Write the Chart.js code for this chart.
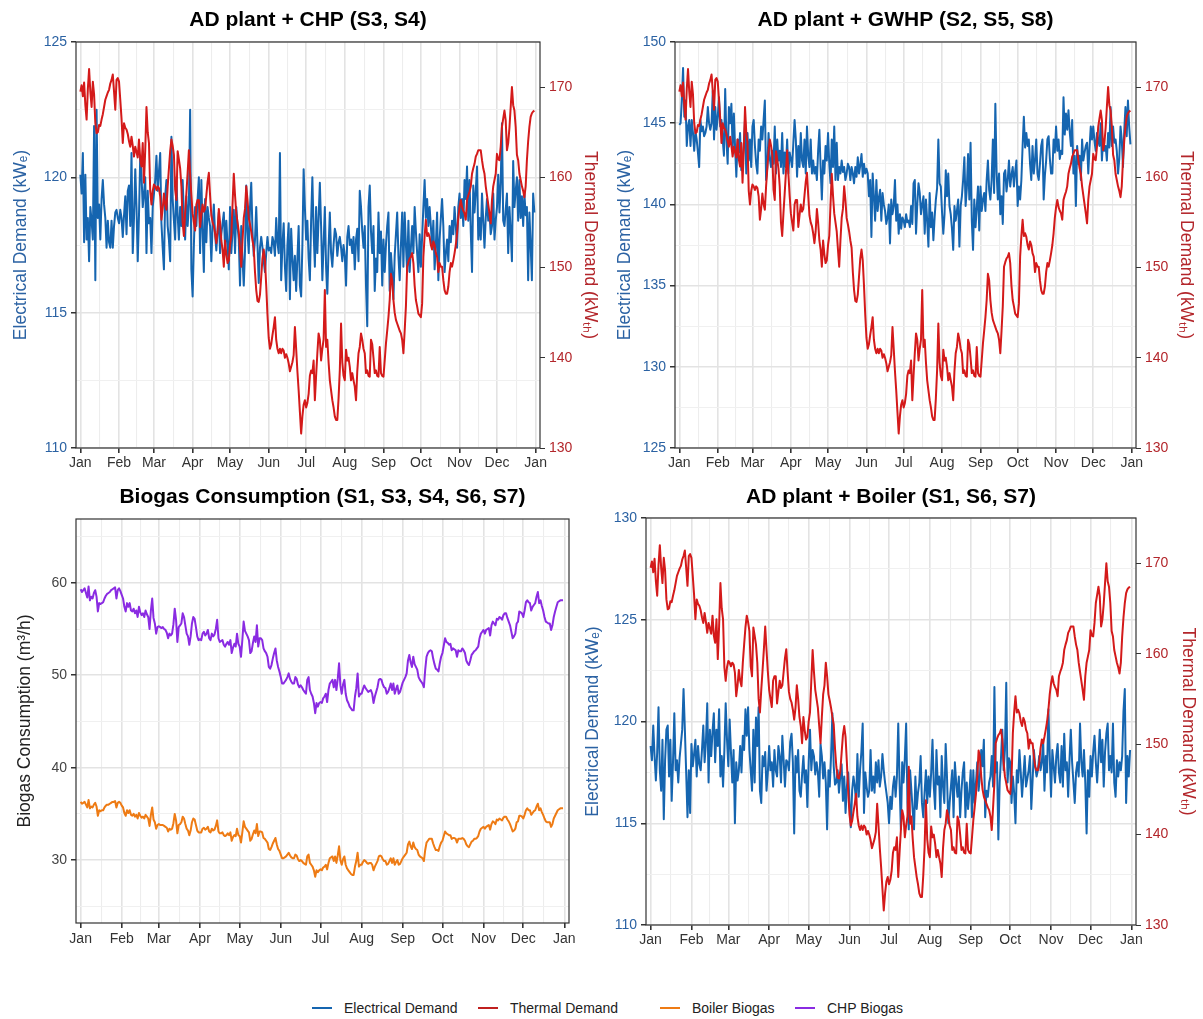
<!DOCTYPE html>
<html>
<head>
<meta charset="utf-8">
<script src="https://cdn.jsdelivr.net/npm/chart.js@4.4.1/dist/chart.umd.min.js"></script>
<style>
  body { margin: 0; background: #fff; }
  #page { position: relative; width: 1203px; height: 1019px; background: #fff; font-family: 'Liberation Sans', Arial, sans-serif; }
  .panel { position: absolute; }
  .item { position: absolute; top: 998px; height: 20px; line-height: 20px; font-size: 14px; color: #222; white-space: nowrap; }
  .swatch { display: inline-block; width: 20px; height: 2px; vertical-align: middle; margin-right: 12px; position: relative; top: -1px; }
</style>
</head>
<body>
<div id="page">
  <div class="panel" style="left:0;top:0"><canvas id="chp" width="600" height="480"></canvas></div>
  <div class="panel" style="left:600px;top:0"><canvas id="gwhp" width="603" height="480"></canvas></div>
  <div class="panel" style="left:0;top:480px"><canvas id="biogas" width="600" height="480"></canvas></div>
  <div class="panel" style="left:570px;top:480px"><canvas id="boiler" width="633" height="480"></canvas></div>

  <div class="item" style="left:312px"><span class="swatch" style="background:#1565b0"></span>Electrical Demand</div>
  <div class="item" style="left:478px"><span class="swatch" style="background:#c0201f"></span>Thermal Demand</div>
  <div class="item" style="left:660px"><span class="swatch" style="background:#ee7b14"></span>Boiler Biogas</div>
  <div class="item" style="left:795px"><span class="swatch" style="background:#8a2be2"></span>CHP Biogas</div>
</div>
<script>
// x axis: day of year, ticks at month starts, minor lines at mid-month
const monthDays = [0, 31, 59, 90, 120, 151, 181, 212, 243, 273, 304, 334, 365];
const monthLabels = ['Jan', 'Feb', 'Mar', 'Apr', 'May', 'Jun', 'Jul', 'Aug', 'Sep', 'Oct', 'Nov', 'Dec', 'Jan'];
const midMonthDays = [15.5, 45, 74.5, 105, 135.5, 166, 196.5, 227.5, 258, 288.5, 319, 349.5];

// y ticks
const elecTicksChp = [110, 112.5, 115, 117.5, 120, 122.5, 125];
const elecTicksGwhp = [125, 127.5, 130, 132.5, 135, 137.5, 140, 142.5, 145, 147.5, 150];
const elecTicksBoiler = [110, 112.5, 115, 117.5, 120, 122.5, 125, 127.5, 130];
const thermalTicks = [130, 140, 150, 160, 170];
const biogasTicks = [25, 30, 35, 40, 45, 50, 55, 60, 65];

// daily thermal demand (kWth), same in the three demand panels
const thermalDemand = [
  169.5,170.2,169.0,170.5,168.0,166.4,169.8,172.0,169.5,167.8,
  170.6,169.2,166.0,164.9,165.0,165.8,165.7,166.4,167.0,167.8,
  168.6,169.0,169.4,169.7,170.4,170.8,171.4,169.5,167.5,170.8,
  171.0,170.6,168.6,166.5,163.8,166.0,165.5,165.3,164.8,164.0,
  163.4,164.5,163.5,162.3,163.4,162.8,162.2,164.2,162.0,161.2,
  163.8,159.4,163.0,167.8,165.0,163.8,158.5,157.0,158.5,159.2,
  159.0,158.6,159.0,158.8,157.9,155.3,156.5,158.2,157.0,156.4,
  159.0,161.0,162.9,164.2,163.5,162.5,158.6,157.5,162.9,162.0,
  161.0,159.0,155.0,153.5,156.0,158.2,160.5,163.0,160.4,158.0,
  156.0,155.0,154.1,157.0,157.5,157.5,154.5,155.8,157.0,156.2,
  156.5,158.0,159.5,160.5,158.0,155.8,155.0,154.6,153.8,152.7,
  154.0,156.5,155.0,153.0,152.0,150.1,153.0,151.5,150.5,150.8,
  152.5,153.5,157.0,160.4,158.0,156.0,155.0,154.0,152.0,150.1,
  153.0,155.5,156.5,159.0,157.5,155.5,154.8,154.0,153.0,152.2,
  149.5,147.5,146.3,146.2,147.0,149.0,151.0,152.0,150.8,148.0,
  144.8,142.2,141.0,141.5,142.5,143.4,144.5,142.0,141.0,140.5,
  141.0,140.5,141.0,140.8,140.0,140.4,140.0,139.4,138.5,139.0,
  139.5,140.3,143.4,141.0,138.5,136.4,134.0,131.6,133.5,134.8,
  135.3,134.5,135.0,136.0,138.0,138.6,138.3,139.7,135.3,138.0,
  140.5,142.7,142.0,139.7,141.0,142.0,147.5,141.2,142.0,139.5,
  137.5,136.4,135.3,134.5,133.5,133.1,133.1,135.5,138.6,143.8,
  139.5,138.0,137.5,140.9,139.7,140.0,139.0,137.5,138.3,137.5,
  136.8,135.3,138.5,140.5,141.2,142.7,142.0,141.0,140.5,138.3,
  138.6,138.0,137.9,142.0,141.5,140.0,138.3,138.6,138.0,137.9,
  141.2,138.3,138.0,137.9,139.7,141.6,143.0,144.5,146.4,149.3,
  148.6,146.4,145.0,144.2,143.8,143.4,143.0,142.7,142.0,140.5,
  143.0,145.7,150.1,150.6,151.0,151.2,151.6,150.5,148.0,146.4,
  145.7,144.9,144.7,144.5,146.0,151.2,153.5,155.3,153.5,153.8,
  153.4,152.5,152.0,152.9,152.5,151.6,151.2,149.5,150.5,150.1,
  150.1,148.6,147.5,147.1,147.1,147.9,149.5,150.5,150.1,150.8,
  151.6,152.5,153.8,155.5,156.7,157.5,156.7,156.3,156.0,155.3,
  157.5,158.0,158.4,159.0,160.4,161.0,161.5,162.3,162.6,163.0,
  163.0,163.0,161.9,161.0,160.4,159.0,158.0,157.0,156.0,154.9,
  157.5,159.0,159.7,160.4,162.6,162.0,161.9,163.4,165.6,166.5,
  167.4,166.3,163.0,163.8,165.5,167.8,170.0,168.0,167.4,165.6,
  162.5,161.9,160.4,159.7,159.0,158.5,157.8,159.0,161.9,164.0,
  165.6,166.7,167.1,167.3,167.4
];

// daily electrical demand (kWe), AD plant + CHP
const elecChp = [
  120.1,119.4,120.9,117.6,120.1,117.7,118.5,116.9,118.9,118.4,
  117.7,121.9,116.2,122.5,118.5,119.0,117.7,119.2,119.9,119.0,
  118.5,117.4,118.4,117.6,117.4,118.4,117.4,118.2,118.7,118.8,
  118.5,118.3,118.8,118.5,117.8,118.6,119.3,117.9,119.5,119.7,
  118.2,120.9,117.2,118.5,120.3,118.9,116.9,118.6,120.8,120.1,
  118.9,119.4,120.0,117.2,119.5,118.3,118.5,117.2,118.9,119.4,
  119.9,120.8,119.5,120.2,120.9,118.3,117.4,116.6,119.3,119.9,
  118.2,117.7,116.9,121.5,119.2,118.4,117.7,120.0,118.6,117.7,
  118.9,118.2,119.9,118.6,117.7,119.3,118.2,119.0,122.5,116.6,
  115.6,117.5,118.9,118.2,119.2,120.0,117.2,119.9,118.0,116.5,
  119.2,117.6,118.9,118.5,118.2,116.9,118.2,119.0,117.9,117.3,
  118.0,118.7,117.2,117.9,118.3,118.7,117.4,118.4,117.5,116.6,
  118.9,117.2,118.0,118.8,117.2,118.9,118.2,117.7,116.0,118.2,
  117.0,116.0,117.3,119.7,118.0,117.2,118.9,119.8,118.0,117.1,
  117.7,118.9,117.5,116.1,117.4,117.8,117.4,116.9,116.5,117.2,
  117.8,117.3,117.4,117.2,117.8,117.6,117.1,118.5,117.6,117.2,
  120.9,116.2,117.5,118.3,116.7,115.8,117.5,118.3,115.5,118.1,
  117.0,116.2,117.1,115.8,117.0,118.2,116.0,115.6,117.5,120.3,
  118.9,117.7,118.4,117.0,116.2,118.4,120.0,118.0,116.7,118.9,
  117.2,118.5,119.8,118.2,116.2,117.5,118.9,116.7,115.7,117.4,
  118.7,117.2,116.7,117.5,118.1,117.9,117.1,117.6,117.8,117.4,
  116.9,117.5,117.1,116.0,117.8,118.2,117.5,117.7,117.2,117.8,
  116.6,117.7,118.1,116.9,119.5,118.9,118.0,117.4,118.2,116.0,
  114.5,118.9,119.7,118.0,117.2,118.2,115.8,117.0,116.5,118.7,
  117.2,118.0,116.0,117.7,116.5,117.5,118.2,118.7,115.8,117.2,
  116.5,115.5,117.1,117.9,118.7,117.1,116.2,117.5,118.7,116.7,
  118.7,117.5,116.5,118.4,116.5,117.4,118.2,117.2,118.9,118.0,
  117.2,116.5,117.9,116.7,117.8,118.9,119.9,118.5,119.2,118.2,
  118.9,118.2,117.4,118.4,116.6,117.5,118.7,116.2,117.7,118.5,
  119.2,118.2,116.5,117.2,117.7,116.9,118.2,117.6,118.4,117.9,
  118.9,118.2,117.4,118.9,119.4,118.5,119.2,118.2,119.9,119.2,
  120.4,118.4,119.9,118.0,116.5,119.7,118.7,119.5,120.4,117.7,
  118.5,117.7,119.4,118.4,117.4,118.5,119.2,118.4,118.7,117.9,
  118.2,119.4,117.7,118.4,118.9,120.1,118.7,119.8,122.0,118.4,
  118.2,118.8,119.4,117.2,118.9,118.0,116.9,120.6,118.9,119.5,
  120.0,118.4,119.9,118.5,119.3,118.2,119.4,118.6,118.9,116.2,
  118.7,117.5,116.2,119.4,118.7
];

// daily electrical demand (kWe), AD plant + GWHP
const elecGwhp = [
  144.9,145.0,146.4,148.4,145.4,146.4,143.6,144.8,145.2,143.6,
  145.2,144.4,143.3,144.5,144.0,143.2,142.3,145.2,144.5,144.8,
  144.2,144.4,144.8,146.0,145.0,144.6,145.0,147.0,144.0,146.0,
  144.6,145.4,146.6,144.8,145.2,144.0,143.0,147.1,144.0,142.5,
  146.0,145.0,146.2,143.3,145.6,143.5,141.7,144.0,143.2,144.4,
  142.1,142.7,143.6,145.2,141.9,144.4,142.7,144.0,142.3,144.8,
  145.2,143.6,142.5,141.9,144.0,143.3,144.8,144.0,145.2,146.4,
  141.5,142.3,144.4,142.8,142.3,143.3,142.5,144.8,141.9,144.0,
  142.7,143.3,142.3,144.4,141.9,143.2,142.3,144.0,141.9,143.2,
  142.8,142.3,143.8,145.2,144.0,141.7,143.6,142.3,144.4,142.7,
  142.3,144.0,141.9,144.8,143.0,142.3,144.0,141.9,142.7,141.9,
  142.3,141.5,143.3,144.6,142.3,140.3,142.7,141.9,143.6,142.7,
  144.4,142.5,141.3,144.0,142.3,144.8,141.5,143.8,141.5,142.3,
  141.9,142.7,142.0,142.3,141.5,141.9,142.5,142.3,141.5,142.3,
  141.9,141.3,142.3,141.7,142.9,141.9,142.4,143.1,141.7,142.5,
  141.9,142.2,141.9,140.5,141.5,138.0,141.9,140.5,139.0,141.5,
  139.6,140.4,140.9,139.0,140.7,140.0,139.6,138.8,139.2,140.0,
  137.6,140.3,139.4,139.9,141.5,139.0,140.0,138.2,139.4,138.5,
  139.2,139.0,138.6,139.4,138.9,139.0,138.6,139.9,138.8,141.3,
  141.5,138.2,140.0,141.3,140.7,139.4,140.0,140.5,138.2,140.3,
  139.0,137.4,140.7,138.6,139.5,137.8,139.2,140.3,141.0,144.0,
  141.3,141.1,139.5,138.2,139.4,142.1,140.5,141.9,139.9,139.4,
  138.5,137.2,139.9,139.0,139.6,140.3,137.4,139.9,140.5,141.5,
  142.9,139.9,141.0,143.1,140.3,143.8,139.0,137.2,140.3,138.6,
  139.8,141.1,138.4,141.1,139.6,140.3,140.7,139.6,141.5,142.7,
  140.9,140.3,141.5,144.0,140.7,146.2,142.0,140.3,141.9,139.4,
  140.5,138.8,141.9,142.1,140.8,141.5,142.7,141.1,141.8,142.3,
  141.1,142.0,142.7,139.9,141.1,140.3,141.5,143.6,145.4,143.5,
  144.4,143.6,144.0,142.5,141.5,143.6,141.9,142.7,144.0,141.9,
  141.5,142.5,143.6,144.0,140.3,141.8,142.7,144.0,144.2,142.8,
  141.9,141.9,144.0,143.2,144.8,143.3,144.0,142.8,143.3,143.1,
  146.6,144.3,145.6,144.6,145.8,144.5,143.6,145.2,141.9,143.0,
  139.9,143.6,142.5,143.0,141.5,144.0,142.7,143.2,143.6,143.8,
  141.9,143.5,144.8,144.0,144.8,143.9,143.3,144.4,144.0,143.6,
  145.0,142.7,144.0,143.3,143.6,142.7,144.4,143.5,146.0,143.6,
  144.8,143.8,144.0,143.3,141.9,142.8,144.8,144.0,142.3,144.5,
  146.0,144.2,146.4,144.8,143.7
];

// daily electrical demand (kWe), AD plant + Boiler
const elecBoiler = [
  118.8,118.1,119.8,118.3,117.1,118.5,120.7,117.6,116.6,119.1,
  115.2,118.1,119.6,119.8,117.3,119.1,116.1,118.0,120.4,117.6,
  118.1,117.0,118.2,118.9,119.6,121.6,119.6,117.5,115.3,117.6,
  115.5,118.9,117.8,118.4,119.1,117.3,118.8,117.9,117.6,118.6,
  119.8,118.0,119.0,120.9,117.0,119.6,118.3,119.5,120.4,118.0,
  119.6,118.8,120.6,117.3,118.3,116.8,118.6,120.9,119.1,117.8,
  120.1,118.5,117.0,118.6,115.0,118.0,117.1,117.6,118.8,117.5,
  119.3,118.6,120.6,119.3,120.7,118.6,117.6,116.6,119.6,117.0,
  120.2,118.8,120.7,116.6,116.0,118.3,117.8,118.5,116.6,117.5,
  118.8,117.6,118.0,116.8,118.6,117.6,117.3,118.8,118.3,117.0,
  119.3,118.1,116.8,118.1,118.0,117.6,119.0,119.4,118.0,114.5,
  118.3,117.5,118.6,116.6,116.3,117.4,118.3,117.0,117.6,115.8,
  118.0,119.6,117.6,118.6,118.3,117.4,118.0,117.5,116.3,118.9,
  118.3,117.2,118.0,117.0,114.7,117.6,116.8,118.3,120.4,117.8,
  116.9,117.0,117.6,116.5,117.3,117.9,116.1,117.3,115.5,116.8,
  117.5,116.0,114.8,116.6,117.3,116.8,116.0,118.4,116.3,117.6,
  118.5,119.9,115.5,117.5,116.8,116.3,116.6,118.6,116.6,117.3,
  116.5,118.0,117.0,118.1,116.8,117.3,118.4,117.6,117.0,116.5,
  116.0,115.0,116.3,115.7,116.8,117.3,116.3,117.3,119.9,117.0,
  114.7,118.0,117.0,118.2,119.9,116.0,114.7,117.6,116.6,115.6,
  114.7,117.3,115.7,116.5,117.0,118.3,116.0,115.3,116.5,117.6,
  116.0,117.3,116.3,117.5,119.1,116.8,115.7,118.6,116.9,117.3,
  115.3,118.3,116.8,116.0,118.9,117.3,115.0,116.0,116.8,117.6,
  115.3,118.0,117.0,116.3,117.3,115.3,116.6,117.5,118.0,115.3,
  117.0,115.7,116.5,117.6,115.3,117.6,116.0,117.0,118.0,116.6,
  117.3,118.6,117.8,119.1,115.3,116.6,116.3,117.0,117.3,118.3,
  116.8,121.7,117.5,118.0,114.2,117.0,118.2,119.6,117.6,118.6,
  121.9,117.0,118.2,118.0,116.0,117.3,116.5,115.0,117.6,117.0,
  118.6,117.5,116.3,117.3,118.3,116.8,117.2,117.6,118.3,115.7,
  117.1,118.6,117.8,117.3,117.6,118.3,117.6,118.0,119.1,116.6,
  118.3,117.5,120.6,118.3,116.3,118.6,117.8,117.0,118.3,118.9,
  117.5,117.0,118.8,116.8,119.4,117.6,118.0,116.3,118.1,119.6,
  118.0,117.0,116.0,117.5,118.0,117.3,119.9,118.0,117.3,118.6,
  117.0,114.5,117.6,116.3,118.3,117.3,118.5,119.3,118.0,117.0,
  118.2,119.6,118.0,119.1,116.8,118.5,119.4,119.9,117.6,118.3,
  117.5,119.9,117.0,116.3,118.1,117.3,118.0,117.6,118.3,120.5,
  121.6,116.0,118.3,117.3,118.6
];

// daily biogas consumption (m3/h)
const chpBiogas = [
  59.3,59.0,59.2,59.4,58.9,58.4,59.6,58.1,58.5,58.3,
  58.9,59.2,58.5,56.9,57.8,57.7,57.8,57.9,58.3,58.6,
  58.8,58.9,59.0,59.2,59.3,59.4,59.5,58.3,59.2,59.4,
  59.1,58.7,58.3,57.4,56.9,57.8,57.4,57.8,57.0,56.9,
  57.2,56.7,57.0,56.3,57.4,56.8,56.5,56.7,56.3,57.0,
  56.6,56.3,55.0,57.0,58.3,56.2,55.6,54.5,55.2,55.3,
  55.2,55.1,55.2,55.0,54.9,54.6,54.0,54.5,54.3,54.5,
  55.5,57.2,56.0,53.6,55.2,55.4,55.6,56.7,56.3,55.4,
  54.5,54.2,53.3,54.2,55.6,56.3,56.1,55.2,54.2,53.8,
  53.9,53.8,54.5,54.7,54.3,54.5,54.9,54.0,53.8,54.5,
  54.2,54.4,55.0,56.0,54.0,53.6,53.7,53.8,53.3,53.1,
  53.4,53.6,53.3,53.8,52.4,53.0,53.4,53.1,54.5,53.4,
  53.1,52.0,53.8,55.8,54.8,54.5,54.2,53.8,52.4,52.6,
  53.5,54.2,53.6,55.4,53.1,54.0,54.0,53.8,52.9,52.6,
  52.4,52.0,50.9,50.7,51.1,51.8,52.4,52.9,51.6,50.9,
  50.4,49.8,49.1,49.1,49.3,49.5,49.8,50.2,49.6,49.3,
  49.1,49.1,49.8,49.6,49.0,48.7,48.9,48.7,48.4,48.2,
  48.0,49.5,49.8,48.4,48.0,47.7,47.0,45.9,47.0,46.6,
  47.0,47.1,47.0,47.5,47.7,48.0,47.1,48.4,49.1,49.3,
  49.5,48.7,49.5,48.4,49.6,51.3,48.9,48.0,49.0,49.5,
  48.0,47.3,47.0,46.6,46.4,46.2,46.2,47.7,48.6,50.2,
  47.7,48.0,48.0,48.5,48.9,48.6,48.4,48.2,48.3,48.4,
  48.0,47.0,47.7,48.2,48.7,49.5,49.6,49.5,49.0,48.7,
  48.6,48.0,48.2,48.6,49.1,48.4,49.1,48.0,48.5,48.9,
  48.0,48.2,48.7,49.2,49.5,49.8,50.2,51.6,52.2,51.4,
  50.9,52.0,51.2,50.9,50.6,49.8,49.5,49.3,49.1,48.7,
  50.6,52.0,52.4,52.6,52.7,52.6,51.8,51.2,50.7,50.6,
  50.4,51.3,52.0,52.4,53.2,54.0,53.6,53.5,53.3,53.4,
  52.7,52.9,52.8,52.7,52.0,52.7,52.6,52.6,52.9,52.7,
  52.4,51.6,51.3,51.1,51.6,52.2,52.4,52.6,52.7,52.9,
  53.1,54.0,54.5,54.7,54.9,54.5,54.9,55.0,55.1,54.3,
  55.4,55.8,55.6,55.4,56.1,56.0,56.3,56.2,56.0,56.5,
  56.7,56.7,56.2,55.8,55.4,54.7,54.0,54.2,54.5,55.6,
  55.8,56.9,56.8,56.7,56.3,57.0,57.9,58.1,57.9,57.8,
  57.0,57.4,57.6,57.8,58.5,59.0,57.8,58.1,57.5,57.0,
  56.3,55.8,55.7,55.6,55.6,54.9,55.4,56.3,56.9,57.4,
  57.9,58.0,58.1,58.1,58.1
];

const boilerBiogas = [
  36.3,36.1,36.2,36.3,36.0,35.7,36.5,35.6,35.8,35.7,
  36.0,36.2,35.8,34.8,35.4,35.3,35.4,35.4,35.7,35.9,
  36.0,36.0,36.1,36.2,36.3,36.3,36.4,35.7,36.2,36.3,
  36.2,35.9,35.7,35.1,34.8,35.4,35.1,35.4,34.9,34.8,
  35.0,34.7,34.9,34.5,35.1,34.8,34.6,34.7,34.5,34.9,
  34.7,34.5,33.7,34.9,35.7,34.4,34.1,33.4,33.8,33.9,
  33.8,33.8,33.8,33.7,33.6,33.5,33.1,33.4,33.3,33.4,
  34.0,35.0,34.3,32.9,33.8,33.9,34.1,34.7,34.5,33.9,
  33.4,33.2,32.7,33.2,34.1,34.5,34.4,33.8,33.2,33.0,
  33.0,33.0,33.4,33.5,33.3,33.4,33.6,33.1,33.0,33.4,
  33.2,33.3,33.7,34.3,33.1,32.9,32.9,33.0,32.7,32.6,
  32.7,32.9,32.7,33.0,32.1,32.5,32.7,32.6,33.4,32.7,
  32.6,31.9,33.0,34.2,33.6,33.4,33.2,33.0,32.1,32.3,
  32.8,33.2,32.9,33.9,32.6,33.1,33.1,33.0,32.4,32.3,
  32.1,31.9,31.2,31.1,31.4,31.8,32.1,32.4,31.7,31.2,
  31.0,30.6,30.2,30.2,30.3,30.4,30.6,30.8,30.5,30.3,
  30.2,30.2,30.6,30.5,30.1,29.9,30.0,29.9,29.7,29.6,
  29.5,30.4,30.6,29.7,29.5,29.3,28.9,28.2,28.9,28.7,
  28.9,29.0,28.9,29.2,29.3,29.5,29.0,29.7,30.2,30.3,
  30.4,29.9,30.4,29.7,30.5,31.5,30.0,29.5,30.1,30.4,
  29.5,29.1,28.9,28.7,28.5,28.4,28.4,29.3,29.9,30.8,
  29.3,29.5,29.5,29.8,30.0,29.9,29.7,29.6,29.7,29.7,
  29.5,28.9,29.3,29.6,29.9,30.4,30.5,30.4,30.1,29.9,
  29.9,29.5,29.6,29.9,30.2,29.7,30.2,29.5,29.8,30.0,
  29.5,29.6,29.9,30.2,30.4,30.6,30.8,31.7,32.0,31.5,
  31.2,31.9,31.4,31.2,31.1,30.6,30.4,30.3,30.2,29.9,
  31.1,31.9,32.1,32.3,32.3,32.3,31.8,31.4,31.1,31.1,
  31.0,31.5,31.9,32.1,32.6,33.1,32.9,32.8,32.7,32.7,
  32.3,32.4,32.4,32.3,31.9,32.3,32.3,32.3,32.4,32.3,
  32.1,31.7,31.5,31.4,31.7,32.0,32.1,32.3,32.3,32.4,
  32.6,33.1,33.4,33.5,33.6,33.4,33.6,33.7,33.8,33.3,
  33.9,34.2,34.1,33.9,34.4,34.3,34.5,34.4,34.3,34.6,
  34.7,34.7,34.4,34.2,33.9,33.5,33.1,33.2,33.4,34.1,
  34.2,34.8,34.8,34.7,34.5,34.9,35.4,35.6,35.4,35.4,
  34.9,35.1,35.3,35.4,35.8,36.1,35.4,35.6,35.2,34.9,
  34.5,34.2,34.1,34.1,34.1,33.6,33.9,34.5,34.8,35.1,
  35.4,35.5,35.6,35.6,35.6
];

Chart.defaults.font.family = "'Liberation Sans', Arial, Helvetica, sans-serif";
Chart.defaults.animation = false;

const BLUE = '#1565b0', RED = '#d41a1a', ORANGE = '#ee7b14', PURPLE = '#8a2be2';
const BLUE_TXT = '#2b62a3', RED_TXT = '#b3262b';

const toXY = arr => arr.map((v, i) => ({ x: i, y: v }));

// draws the panel border round the plot area
const frame = {
  id: 'frame',
  afterDraw(chart) {
    const a = chart.chartArea, ctx = chart.ctx;
    ctx.save();
    ctx.strokeStyle = '#333';
    ctx.lineWidth = 1.2;
    ctx.strokeRect(a.left, a.top, a.right - a.left, a.bottom - a.top);
    ctx.restore();
  }
};

function line(label, data, color, axis) {
  return {
    label, data: toXY(data), yAxisID: axis,
    borderColor: color, borderWidth: 2, pointRadius: 0,
    tension: 0, fill: false, borderJoinStyle: 'round'
  };
}

function xAxis(height, pad) {
  const all = monthDays.concat(midMonthDays).sort((a, b) => a - b);
  const isMonth = c => c.tick && monthDays.includes(c.tick.value);
  return {
    type: 'linear', min: -3.5, max: 368.5,
    afterBuildTicks: s => { s.ticks = all.map(v => ({ value: v })); },
    afterFit: s => { s.height = height; },
    ticks: {
      autoSkip: false, maxRotation: 0, color: '#333', font: { size: 14 }, padding: pad,
      callback: v => { const k = monthDays.indexOf(v); return k >= 0 ? monthLabels[k] : ''; }
    },
    grid: {
      color: c => isMonth(c) ? '#e3e3e3' : '#ededed',
      lineWidth: c => isMonth(c) ? 1.6 : 1.1,
      tickLength: 5,
      tickColor: c => isMonth(c) ? '#333' : 'rgba(0,0,0,0)'
    },
    border: { display: false }
  };
}

function yLeft(o) {
  return {
    type: 'linear', position: 'left', min: o.min, max: o.max,
    afterBuildTicks: s => { s.ticks = o.ticks.map(v => ({ value: v })); },
    afterFit: s => { s.width = o.width; },
    ticks: {
      color: o.tickColor, font: { size: 14 }, padding: 4,
      callback: v => (v % o.major === 0) ? String(v) : ''
    },
    grid: {
      color: c => (c.tick && c.tick.value % o.major === 0) ? '#e3e3e3' : '#f0f0f0',
      lineWidth: c => (c.tick && c.tick.value % o.major === 0) ? 1.5 : 1,
      tickLength: 5,
      tickColor: c => (c.tick && c.tick.value % o.major === 0) ? '#333' : 'rgba(0,0,0,0)'
    },
    border: { display: false },
    title: { display: true, text: o.title, color: o.titleColor, font: { size: 17.5 }, padding: { top: o.titlePad, bottom: 0 } }
  };
}

function yRight(width, titlePad) {
  return {
    type: 'linear', position: 'right', min: 130, max: 175,
    afterBuildTicks: s => { s.ticks = thermalTicks.map(v => ({ value: v })); },
    afterFit: s => { s.width = width; },
    ticks: { color: RED_TXT, font: { size: 14 }, padding: 4 },
    grid: { drawOnChartArea: false, tickLength: 5, tickColor: '#333' },
    border: { display: false },
    title: { display: true, text: 'Thermal Demand (kW\u209C\u2095)', color: RED_TXT, font: { size: 17.5 }, padding: { top: titlePad, bottom: 0 } }
  };
}

function titleOpts(text, top, bottom) {
  return {
    display: true, text, fullSize: false, color: '#000',
    font: { size: 21, weight: 'bold' }, padding: { top, bottom }
  };
}

function makeChart(id, title, tPad, datasets, scales, padRight) {
  return new Chart(document.getElementById(id), {
    type: 'line',
    data: { datasets },
    options: {
      responsive: false,
      maintainAspectRatio: false,
      layout: { padding: { right: padRight || 0 } },
      plugins: {
        legend: { display: false },
        tooltip: { enabled: false },
        title: titleOpts(title, tPad[0], tPad[1])
      },
      scales
    },
    plugins: [frame]
  });
}

const elecTitle = 'Electrical Demand (kW\u2091)';

makeChart('chp', 'AD plant + CHP (S3, S4)', [8, 8.8],
  [line('Thermal Demand', thermalDemand, RED, 'yR'), line('Electrical Demand', elecChp, BLUE, 'y')],
  {
    x: xAxis(32, 2),
    y: yLeft({ min: 110, max: 125, ticks: elecTicksChp, major: 5, width: 76, tickColor: BLUE_TXT, title: elecTitle, titleColor: BLUE_TXT, titlePad: 10.5 }),
    yR: yRight(60, 0)
  });

makeChart('gwhp', 'AD plant + GWHP (S2, S5, S8)', [8, 8.8],
  [line('Thermal Demand', thermalDemand, RED, 'yR'), line('Electrical Demand', elecGwhp, BLUE, 'y')],
  {
    x: xAxis(32, 2),
    y: yLeft({ min: 125, max: 150, ticks: elecTicksGwhp, major: 5, width: 75, tickColor: BLUE_TXT, title: elecTitle, titleColor: BLUE_TXT, titlePad: 14.5 }),
    yR: yRight(67, 7)
  });

makeChart('biogas', 'Biogas Consumption (S1, S3, S4, S6, S7)', [5, 8.8],
  [line('CHP Biogas', chpBiogas, PURPLE, 'y'), line('Boiler Biogas', boilerBiogas, ORANGE, 'y')],
  {
    x: xAxis(37, 3),
    y: yLeft({ min: 23.2, max: 66.9, ticks: biogasTicks, major: 10, width: 76, tickColor: '#444', title: 'Biogas Consumption (m\u00B3/h)', titleColor: '#222', titlePad: 15 })
  }, 31);

makeChart('boiler', 'AD plant + Boiler (S1, S6, S7)', [5, 7.8],
  [line('Thermal Demand', thermalDemand, RED, 'yR'), line('Electrical Demand', elecBoiler, BLUE, 'y')],
  {
    x: xAxis(35, 2),
    y: yLeft({ min: 110, max: 130, ticks: elecTicksBoiler, major: 5, width: 76, tickColor: BLUE_TXT, title: elecTitle, titleColor: BLUE_TXT, titlePad: 12.5 }),
    yR: yRight(67, 5)
  });
</script>
</body>
</html>
